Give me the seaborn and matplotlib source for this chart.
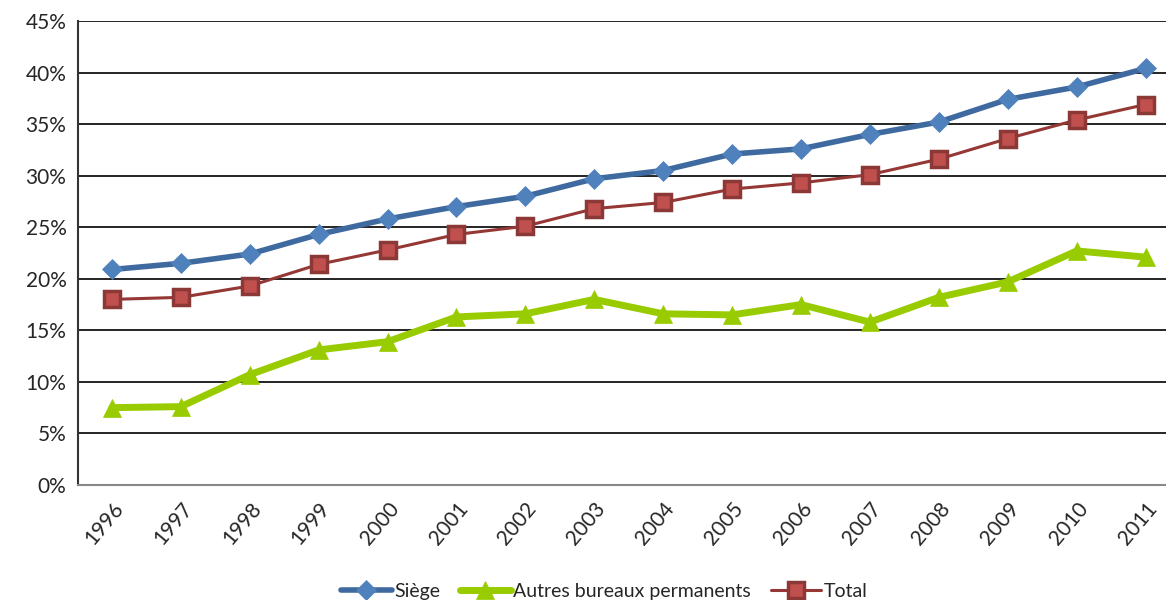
import numpy as np
import pandas as pd
import matplotlib
matplotlib.use("Agg")
import matplotlib.pyplot as plt
import seaborn as sns
from matplotlib.ticker import FuncFormatter

years = [str(y) for y in range(1996, 2012)]
siege = [20.9, 21.5, 22.4, 24.3, 25.8, 27.0, 28.0, 29.7, 30.5, 32.1, 32.6, 34.0, 35.2, 37.4, 38.6, 40.4]
autres = [7.5, 7.6, 10.7, 13.1, 13.9, 16.3, 16.6, 18.0, 16.6, 16.5, 17.5, 15.8, 18.2, 19.7, 22.7, 22.1]
total = [18.0, 18.2, 19.3, 21.4, 22.8, 24.3, 25.1, 26.8, 27.4, 28.7, 29.3, 30.1, 31.6, 33.6, 35.4, 36.9]

series_names = ["Siège", "Autres bureaux permanents", "Total"]

sns.set_theme(style="white")
plt.rcParams["font.family"] = ["Lato", "DejaVu Sans"]

df = pd.DataFrame({
    "year": years * 3,
    "value": siege + autres + total,
    "serie": np.repeat(series_names, len(years)),
})
df["x"] = np.tile(np.arange(len(years)), 3)

fig = plt.figure(figsize=(11.66, 6.0), dpi=100)
ax = fig.add_axes([77.5 / 1166, 1 - 485 / 600, (1180 - 77.5) / 1166, (485 - 21) / 600])

styles = {
    "Siège": dict(color="#3F6A9F", lw=4, marker="D", ms=10, mfc="#4F81BD", mec="#4F81BD"),
    "Autres bureaux permanents": dict(color="#99CC00", lw=5, marker="^", ms=13, mfc="#99CC00", mec="#99CC00"),
    "Total": dict(color="#953735", lw=2.2, marker="s", ms=12, mfc="#C0504D", mec="#8C3836", mew=2.5),
}

for name in series_names:
    sub = df[df["serie"] == name]
    st = styles[name]
    sns.lineplot(data=sub, x="x", y="value", ax=ax, color=st["color"], lw=st["lw"],
                 marker=st["marker"], markersize=st["ms"], markerfacecolor=st["mfc"],
                 markeredgecolor=st["mec"], markeredgewidth=st.get("mew", 0.5),
                 label=name, zorder=3)

ax.set_xlim(-0.5, len(years) - 0.5)
ax.set_ylim(0, 45)
ax.set_yticks(np.arange(0, 46, 5))
ax.yaxis.set_major_formatter(FuncFormatter(lambda v, p: f"{int(v)}%"))
ax.set_xticks(np.arange(len(years)))
ax.set_xticklabels(years, rotation=50, ha="right", rotation_mode="anchor")
ax.grid(axis="y", color="#000000", lw=1.2)
ax.set_axisbelow(True)
ax.set_xlabel("")
ax.set_ylabel("")
for s in ["top", "right"]:
    ax.spines[s].set_visible(False)
ax.spines["left"].set_color("#333333")
ax.spines["left"].set_linewidth(1.5)
ax.spines["bottom"].set_color("#888888")
ax.spines["bottom"].set_linewidth(1.5)
ax.tick_params(axis="y", labelsize=15, pad=8, length=0)
ax.tick_params(axis="x", labelsize=15, pad=10, length=0)

ax.legend(loc="lower center", bbox_to_anchor=(527 / (1180 - 77.5) - 0.0, -0.265), ncol=3,
          frameon=False, fontsize=14, handlelength=2.6, handletextpad=0.15,
          columnspacing=1.0, borderaxespad=0)

fig.savefig("out.png", dpi=100)
